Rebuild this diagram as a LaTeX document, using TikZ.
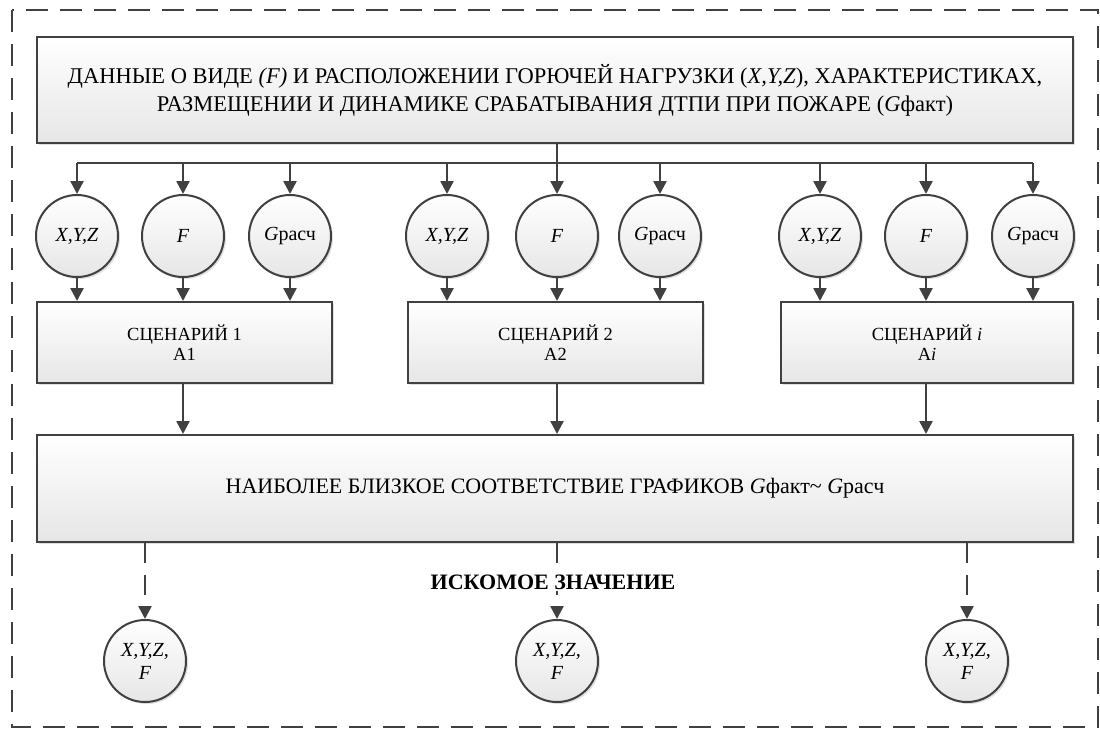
\documentclass[tikz,border=0pt]{standalone}
\usepackage{fontspec}
\setmainfont{Liberation Serif}
\usetikzlibrary{arrows.meta,shadows,calc}
\definecolor{ln}{HTML}{404040}
\definecolor{shd}{HTML}{E6E6E6}
\tikzset{
  boxsty/.style={draw=ln, line width=2pt, rectangle, top color=white, bottom color=shd, inner sep=0pt,
    drop shadow={shadow xshift=2pt, shadow yshift=-2pt, opacity=0.25, fill=gray}, align=center},
  circsty/.style={draw=ln, line width=2pt, circle, minimum size=82pt, inner sep=0pt, top color=white, bottom color=shd,
    drop shadow={shadow xshift=2pt, shadow yshift=-2pt, opacity=0.25, fill=gray}, align=center, font=\fontsize{20}{23}\selectfont\itshape},
  scen/.style={boxsty, minimum height=81pt, font=\fontsize{18.5}{20}\selectfont},
  conn/.style={draw=ln, line width=2.5pt},
  arr/.style={conn, -{Triangle[length=13pt,width=13pt]}},
  darr/.style={arr, dash pattern=on 20pt off 12pt},
  outer/.style={draw=ln, line width=2.5pt, dash pattern=on 22pt off 12pt}
}
\begin{document}
\begin{tikzpicture}[x=1pt,y=-1pt]
\useasboundingbox (0,0) rectangle (1100,729);
\draw[outer] (12,10) rectangle (1098,727);
% top box
\node[boxsty, minimum width=1036pt, minimum height=106pt, font=\fontsize{22.5}{28}\selectfont] (top) at (555,90)
  {ДАННЫЕ О ВИДЕ \textit{(F)} И РАСПОЛОЖЕНИИ ГОРЮЧЕЙ НАГРУЗКИ (\textit{X,Y,Z}), ХАРАКТЕРИСТИКАХ,\\
   РАЗМЕЩЕНИИ И ДИНАМИКЕ СРАБАТЫВАНИЯ ДТПИ ПРИ ПОЖАРЕ (\textit{G}факт)};
% circles
\foreach \n/\x/\t in {a1/77/{X,Y,Z}, a2/183/F, a3/290/{G\upshape расч},
                      b1/447/{X,Y,Z}, b2/557/F, b3/660/{G\upshape расч},
                      c1/820/{X,Y,Z}, c2/926/F, c3/1033/{G\upshape расч}}
  \node[circsty] (\n) at (\x,236) {\t};
% scenario boxes
\node[scen, minimum width=295pt] (s1) at (184.5,342.5) {СЦЕНАРИЙ 1\\А1};
\node[scen, minimum width=295pt] (s2) at (555.5,342.5) {СЦЕНАРИЙ 2\\А2};
\node[scen, minimum width=292pt] (s3) at (927,342.5) {СЦЕНАРИЙ \textit{i}\\А\textit{i}};
% big box
\node[boxsty, minimum width=1036pt, minimum height=107pt, font=\fontsize{22}{26}\selectfont] (big) at (555,488.5)
  {НАИБОЛЕЕ БЛИЗКОЕ СООТВЕТСТВИЕ ГРАФИКОВ \textit{G}факт\textasciitilde{} \textit{G}расч};
% result circles
\node[circsty] (r1) at (145,661) {X,Y,Z,\\F};
\node[circsty] (r2) at (557,661) {X,Y,Z,\\F};
\node[circsty] (r3) at (967,661) {X,Y,Z,\\F};
% bus
\coordinate (bus) at (557,163);
\draw[conn] (top.south -| b2) -- (bus);
\draw[conn] (bus -| a1) -- (bus -| c3);
\foreach \n in {a1,a2,a3,b1,b2,b3,c1,c2,c3}
  \draw[arr] (bus -| \n) -- (\n.north);
\foreach \n/\s in {a1/s1,a2/s1,a3/s1,b1/s2,b2/s2,b3/s2,c1/s3,c2/s3,c3/s3}
  \draw[arr] (\n.south) -- (\s.north -| \n);
\draw[arr] (s1.south -| a2) -- (big.north -| a2);
\draw[arr] (s2.south -| b2) -- (big.north -| b2);
\draw[arr] (s3.south -| c2) -- (big.north -| c2);
\foreach \n in {r1,r2,r3}
  \draw[darr] (big.south -| \n) -- (\n.north);
\node[fill=white, inner sep=2pt, font=\fontsize{22}{24}\selectfont\bfseries] (lab) at (553,582) {ИСКОМОЕ ЗНАЧЕНИЕ};
\end{tikzpicture}
\end{document}
